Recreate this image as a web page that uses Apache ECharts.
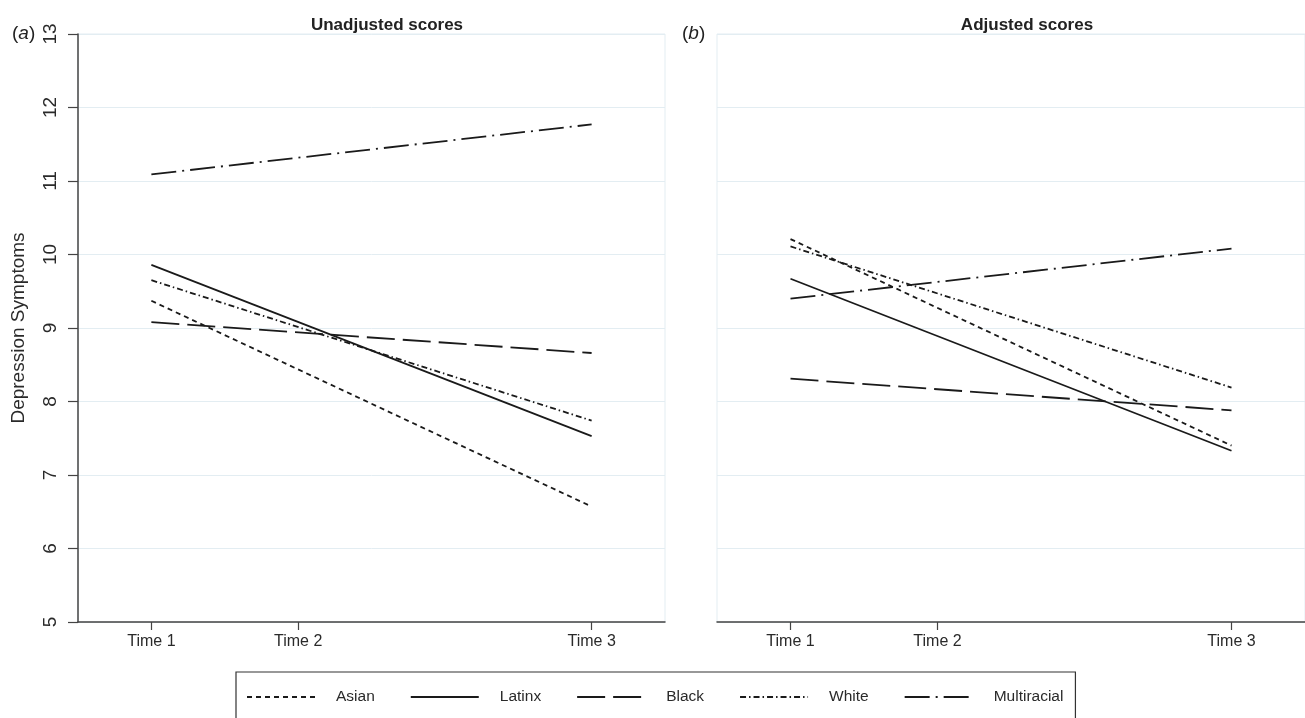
<!DOCTYPE html>
<html>
<head>
<meta charset="utf-8">
<script src="https://cdn.jsdelivr.net/npm/echarts@6/dist/echarts.min.js"></script>
<style>
html,body{margin:0;padding:0;background:#fff;}
#chart{width:1305px;height:718px;}
</style>
</head>
<body>
<div id="chart"></div>
<script>
// ---- data ----
var groups = ['Asian', 'Latinx', 'Black', 'White', 'Multiracial'];
var timeValues = [1, 2, 4];
var timeLabels = ['Time 1', 'Time 2', 'Time 3'];
var yTicks = [5, 6, 7, 8, 9, 10, 11, 12, 13];
// Unadjusted scores (panel a): Time 1 and Time 3
var unadjTime1 = [9.37, 9.86, 9.08, 9.65, 11.09];
var unadjTime3 = [6.57, 7.53, 8.66, 7.74, 11.77];
// Adjusted scores (panel b): Time 1 and Time 3
var adjTime1 = [10.21, 9.67, 8.31, 10.11, 9.40];
var adjTime3 = [7.40, 7.33, 7.88, 8.19, 10.08];

// ---- styles ----
var dashStyles = [[5, 4], 'solid', [28, 8], [6, 3, 1.5, 3], [25, 6, 2, 6]];
var lineColor = '#1a1a1a';
var font = "'Liberation Sans', Arial, sans-serif";
var gridColor = '#e3edf2';

var chart = echarts.init(document.getElementById('chart'));

function timeLabelFor(v) {
  var i = timeValues.indexOf(v);
  return i >= 0 ? timeLabels[i] : '';
}

function makeXAxis(gi) {
  return {
    type: 'value', gridIndex: gi, min: 0.5, max: 4.5,
    splitLine: {show: false},
    axisLine: {show: true, onZero: false, lineStyle: {color: '#444', width: 1.5}},
    axisTick: {show: true, customValues: timeValues, length: 8, lineStyle: {color: '#444', width: 1.2}},
    axisLabel: {show: true, customValues: timeValues, formatter: timeLabelFor,
      fontFamily: font, fontSize: 16, color: '#2a2a2a', margin: 12}
  };
}

function makeYAxis(gi, showAxis) {
  return {
    type: 'value', gridIndex: gi, min: yTicks[0], max: yTicks[yTicks.length - 1], interval: 1,
    name: showAxis ? 'Depression Symptoms' : '',
    nameLocation: 'middle', nameGap: 50, nameRotate: 90,
    nameTextStyle: {fontFamily: font, fontSize: 19, color: '#2a2a2a'},
    splitLine: {show: true, lineStyle: {color: gridColor, width: 1}},
    axisLine: {show: showAxis, lineStyle: {color: '#444', width: 1.5}},
    axisTick: {show: showAxis, length: 10, lineStyle: {color: '#444', width: 1.2}},
    axisLabel: {show: showAxis, rotate: 90, margin: 18, fontFamily: font, fontSize: 19, color: '#2a2a2a'}
  };
}

var series = [];
function addPanel(gi, t1, t3) {
  groups.forEach(function (g, i) {
    series.push({
      name: g, type: 'line', xAxisIndex: gi, yAxisIndex: gi,
      symbol: 'none', silent: true, animation: false,
      lineStyle: {color: lineColor, width: 1.8, type: dashStyles[i]},
      itemStyle: {color: lineColor},
      data: [[timeValues[0], t1[i]], [timeValues[2], t3[i]]]
    });
  });
}
addPanel(0, unadjTime1, unadjTime3);
addPanel(1, adjTime1, adjTime3);

chart.setOption({
  backgroundColor: '#fff',
  animation: false,
  title: [
    {text: 'Unadjusted scores', left: 382, top: 12, textAlign: 'center',
      textStyle: {fontFamily: font, fontSize: 17, fontWeight: 'bold', color: '#222'}},
    {text: 'Adjusted scores', left: 1022, top: 12, textAlign: 'center',
      textStyle: {fontFamily: font, fontSize: 17, fontWeight: 'bold', color: '#222'}},
    {text: '({i|a})', left: 7, top: 19,
      textStyle: {fontFamily: font, fontSize: 19, fontWeight: 'normal', color: '#222',
        rich: {i: {fontFamily: font, fontSize: 19, fontStyle: 'italic', color: '#222'}}}},
    {text: '({i|b})', left: 677, top: 19,
      textStyle: {fontFamily: font, fontSize: 19, fontWeight: 'normal', color: '#222',
        rich: {i: {fontFamily: font, fontSize: 19, fontStyle: 'italic', color: '#222'}}}}
  ],
  grid: [
    {left: 78, top: 34, width: 587, height: 588, show: true, borderColor: gridColor, borderWidth: 1, backgroundColor: 'transparent'},
    {left: 717, top: 34, width: 588, height: 588, show: true, borderColor: gridColor, borderWidth: 1, backgroundColor: 'transparent'}
  ],
  xAxis: [makeXAxis(0), makeXAxis(1)],
  yAxis: [makeYAxis(0, true), makeYAxis(1, false)],
  legend: {
    data: groups,
    left: 236, top: 672,
    orient: 'horizontal',
    itemWidth: 68, itemHeight: 14, itemGap: 35,
    padding: [17, 12, 40, 10],
    borderColor: '#333', borderWidth: 1.2,
    selectedMode: false,
    itemStyle: {color: 'rgba(0,0,0,0)', borderWidth: 0, opacity: 0},
    textStyle: {fontFamily: font, fontSize: 15.5, color: '#2a2a2a', padding: [0, 0, 0, 16]}
  },
  series: series
});
</script>
</body>
</html>
